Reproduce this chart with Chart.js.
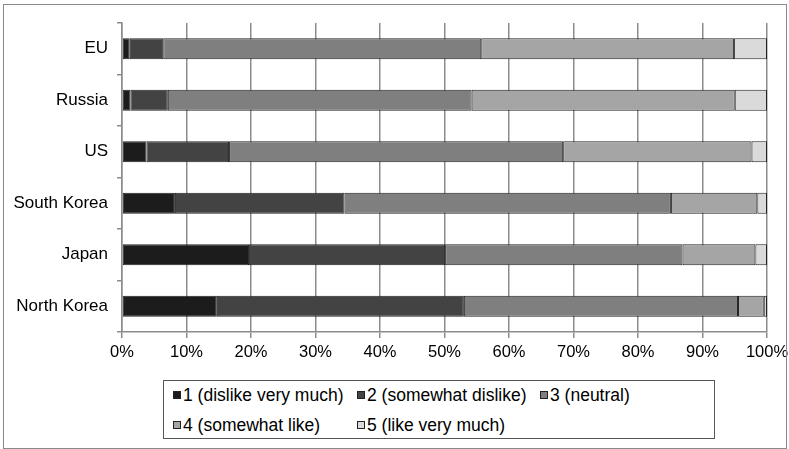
<!DOCTYPE html>
<html>
<head>
<meta charset="utf-8">
<script src="https://cdn.jsdelivr.net/npm/chart.js@4"></script>
<style>
    body { margin: 0; background: #fff; font-family: "Liberation Sans", Arial, sans-serif; }
    #wrap { position: relative; width: 789px; height: 449px; }
    #frame { position: absolute; left: 3px; top: 4px; width: 782px; height: 443px; border: 1px solid #8a8a8a; pointer-events: none; }
    #legend { position: absolute; left: 163px; top: 380px; width: 550px; height: 57px; border: 1px solid #555; background: #fff; }
    .item { position: absolute; display: flex; align-items: center; height: 20px; font-size: 17.5px; color: #000; white-space: nowrap; }
    .box { display: inline-block; width: 8px; height: 8px; border: 1px solid #222; margin-right: 2px; box-sizing: border-box; }
</style>
</head>
<body>
<div id="wrap">
    <canvas id="chart" width="789" height="449"></canvas>
    <div id="frame"></div>
    <div id="legend"></div>
</div>
<script>
const countries = ['EU', 'Russia', 'US', 'South Korea', 'Japan', 'North Korea'];
const seriesNames = ['1 (dislike very much)', '2 (somewhat dislike)', '3 (neutral)', '4 (somewhat like)', '5 (like very much)'];
const dislikeVeryMuch = [1.2, 1.3, 3.8, 8.2, 19.7, 14.7];
const somewhatDislike = [5.2, 5.8, 12.8, 26.3, 30.4, 38.3];
const neutral = [49.3, 47.1, 51.8, 50.6, 36.8, 42.5];
const somewhatLike = [39.2, 40.8, 29.2, 13.4, 11.3, 4.0];
const likeVeryMuch = [5.1, 5.0, 2.4, 1.5, 1.8, 0.5];

const colors = ['#1c1c1c', '#434343', '#7f7f7f', '#a5a5a5', '#dadada'];
const seriesValues = [dislikeVeryMuch, somewhatDislike, neutral, somewhatLike, likeVeryMuch];

const datasets = seriesValues.map((values, i) => ({
    label: seriesNames[i],
    data: values,
    backgroundColor: colors[i],
    borderColor: '#222',
    borderWidth: 1,
    borderSkipped: false,
    barPercentage: 0.41,
    categoryPercentage: 1
}));

Chart.defaults.font.family = '"Liberation Sans", Arial, sans-serif';
Chart.defaults.color = '#000';

new Chart(document.getElementById('chart'), {
    type: 'bar',
    data: { labels: countries, datasets: datasets },
    options: {
        indexAxis: 'y',
        responsive: false,
        animation: false,
        layout: { padding: { left: 0, top: 23, right: 22, bottom: 0 } },
        plugins: {
            legend: { display: false },
            tooltip: { enabled: false }
        },
        scales: {
            x: {
                stacked: true,
                min: 0,
                max: 100,
                ticks: {
                    stepSize: 10,
                    padding: 5,
                    font: { size: 16.5 },
                    callback: v => v + '%'
                },
                grid: { color: '#8c8c8c', lineWidth: 1.5, tickLength: 6 },
                border: { color: '#8c8c8c', width: 1.5 },
                afterFit: scale => {
                    scale.height = 117;
                    scale.paddingLeft = 0;
                    scale.paddingRight = 0;
                }
            },
            y: {
                stacked: true,
                ticks: { padding: 9, font: { size: 17 } },
                grid: { drawOnChartArea: false, color: '#8c8c8c', lineWidth: 1.5, tickLength: 5 },
                border: { color: '#8c8c8c', width: 1.5 },
                afterFit: scale => {
                    scale.width = 122;
                    scale.paddingTop = 0;
                    scale.paddingBottom = 0;
                }
            }
        }
    }
});

// legend laid out in two rows like the original
const legendSpots = [[9, 4], [193, 4], [376, 4], [9, 34], [193, 34]];
const legend = document.getElementById('legend');
seriesNames.forEach((name, i) => {
    const div = document.createElement('div');
    div.className = 'item';
    div.style.left = legendSpots[i][0] + 'px';
    div.style.top = legendSpots[i][1] + 'px';
    const box = document.createElement('span');
    box.className = 'box';
    box.style.background = colors[i];
    div.appendChild(box);
    div.appendChild(document.createTextNode(name));
    legend.appendChild(div);
});
</script>
</body>
</html>
